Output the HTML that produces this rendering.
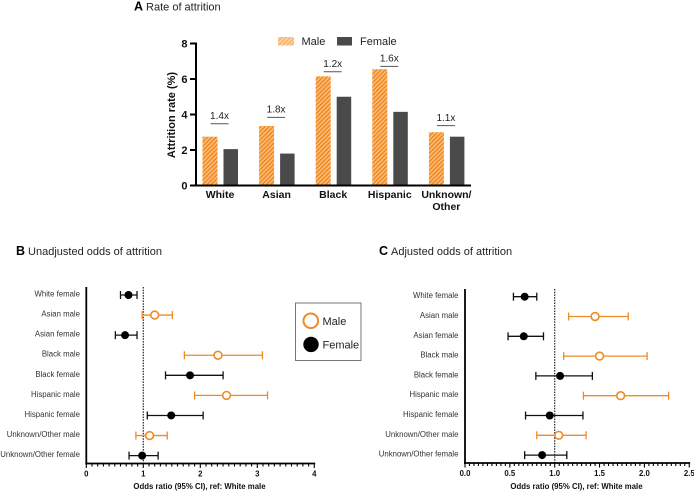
<!DOCTYPE html>
<html>
<head>
<meta charset="utf-8">
<title>Attrition rates and odds</title>
<style>
html,body{margin:0;padding:0;background:#fff;}
svg{display:block;font-family:"Liberation Sans",sans-serif;}
</style>
</head>
<body>
<svg id="fig" xmlns="http://www.w3.org/2000/svg" width="694" height="491" viewBox="0 0 694 491">
<defs>
<pattern id="hatch" patternUnits="userSpaceOnUse" width="3" height="3" patternTransform="rotate(45)">
<rect width="3" height="3" fill="#fbc48c"></rect>
<rect width="1.7" height="3" fill="#f28a1e"></rect>
</pattern>
</defs>
</svg>
<script>
// Panel A data
const groupsA = ['White', 'Asian', 'Black', 'Hispanic', 'Unknown/'];
const maleRates = [2.75, 3.35, 6.15, 6.55, 3.0];
const femaleRates = [2.05, 1.8, 5.0, 4.15, 2.75];
const ratioLabels = ['1.4x', '1.8x', '1.2x', '1.6x', '1.1x'];
const ratioLevels = [3.48, 3.84, 6.41, 6.71, 3.37];
const ticksA = [0, 2, 4, 6, 8];

// Panels B and C data
const rowLabels = ['White female', 'Asian male', 'Asian female', 'Black male', 'Black female', 'Hispanic male', 'Hispanic female', 'Unknown/Other male', 'Unknown/Other female'];
const rowSex = ['f', 'm', 'f', 'm', 'f', 'm', 'f', 'm', 'f'];
const oddsB = [0.74, 1.20, 0.68, 2.31, 1.82, 2.46, 1.49, 1.11, 0.98];
const lowB = [0.60, 0.98, 0.51, 1.72, 1.39, 1.90, 1.07, 0.87, 0.75];
const highB = [0.89, 1.51, 0.89, 3.09, 2.40, 3.18, 2.05, 1.42, 1.26];
const ticksB = ['0', '1', '2', '3', '4'];
const oddsC = [0.665, 1.45, 0.655, 1.50, 1.06, 1.735, 0.945, 1.045, 0.86];
const lowC = [0.54, 1.155, 0.48, 1.10, 0.79, 1.32, 0.675, 0.80, 0.665];
const highC = [0.80, 1.82, 0.875, 2.03, 1.42, 2.27, 1.315, 1.35, 1.135];
const ticksC = ['0.0', '0.5', '1.0', '1.5', '2.0', '2.5'];

const svg = document.getElementById('fig');
const NS = 'http://www.w3.org/2000/svg';
function mk(tag, attrs, text, parent) {
  const el = document.createElementNS(NS, tag);
  for (const k in attrs) el.setAttribute(k, attrs[k]);
  if (text !== undefined && text !== null) el.textContent = text;
  (parent || svg).appendChild(el);
  return el;
}
function line(x1, y1, x2, y2, stroke, w, parent, dash) {
  const a = {x1: x1, y1: y1, x2: x2, y2: y2, stroke: stroke, 'stroke-width': w};
  if (dash) a['stroke-dasharray'] = dash;
  return mk('line', a, null, parent);
}
function label(x, y, s, size, anchor, weight, fill, parent) {
  return mk('text', {x: x, y: y, 'font-size': size, 'text-anchor': anchor || 'start', 'font-weight': weight || 'normal', fill: fill || '#222'}, s, parent);
}

// Titles
const titleA = mk('text', {x: 134, y: 10.5, 'font-size': 11, fill: '#222'});


mk('tspan', {'font-weight': 'bold', 'font-size': 12.5, fill: '#000'}, 'A', titleA);
mk('tspan', {dx: 3}, 'Rate of attrition', titleA);
const titleB = mk('text', {x: 16, y: 255, 'font-size': 11, fill: '#222'});


mk('tspan', {'font-weight': 'bold', 'font-size': 12.5, fill: '#000'}, 'B', titleB);
mk('tspan', {dx: 3}, 'Unadjusted odds of attrition', titleB);
const titleC = mk('text', {x: 379, y: 255, 'font-size': 11, fill: '#222'});


mk('tspan', {'font-weight': 'bold', 'font-size': 12.5, fill: '#000'}, 'C', titleC);
mk('tspan', {dx: 3}, 'Adjusted odds of attrition', titleC);

// Panel A
const chartA = mk('g', {});


const yA = v => 185.5 - v * (142 / 8);
const barW = 15;
const groupX = i => 202.5 + i * 56.6;
groupsA.forEach((g, i) => {
  const gx = groupX(i);
  const m = mk('rect', {x: gx, y: yA(maleRates[i]), width: barW, height: yA(0) - yA(maleRates[i]), fill: 'url(#hatch)'}, null, chartA);
  
  
  const f = mk('rect', {x: gx + 21, y: yA(femaleRates[i]), width: 14.5, height: yA(0) - yA(femaleRates[i]), fill: '#4a4a4a'}, null, chartA);
  
  
  const ly = yA(ratioLevels[i]);
  const br = line(gx + 8, ly, gx + 26, ly, '#555', 1, chartA);
  
  
  const rl = label(gx + 17, ly - 4.7, ratioLabels[i], 10, 'middle', 'normal', '#222', chartA);
  
  
  const cat = label(gx + 17.5, 198, g, 10.5, 'middle', 'bold', '#111', chartA);
  
  
});
const other = label(groupX(4) + 17.5, 210, 'Other', 10.5, 'middle', 'bold', '#111', chartA);


line(196, 42.5, 196, 186.5, '#000', 2, chartA);
line(190, 185.5, 471, 185.5, '#000', 2, chartA);
ticksA.forEach(t => {
  line(190, yA(t), 196, yA(t), '#000', 2, chartA);
  const tl = label(187.5, yA(t) + 4, String(t), 11, 'end', 'bold', '#111', chartA);
  
  
});
const yTitle = mk('text', {x: 175, y: 115, 'font-size': 11, 'font-weight': 'bold', 'text-anchor': 'middle', fill: '#111', transform: 'rotate(-90 175 115)'}, 'Attrition rate (%)', chartA);


const legA = mk('g', {});


mk('rect', {x: 278, y: 37, width: 16, height: 8.5, fill: 'url(#hatch)', opacity: 0.65}, null, legA);
label(301.5, 45, 'Male', 11, 'start', 'normal', '#222', legA);
mk('rect', {x: 337, y: 37, width: 15, height: 8.5, fill: '#4a4a4a'}, null, legA);
label(360, 45, 'Female', 11, 'start', 'normal', '#222', legA);

// Forest plots
function forest(name, x0, pxPerUnit, maxV, tickLabels, tickStep, axTop, axBot, rowTop, rowGap, labelX, odds, low, high, titleX) {
  const g = mk('g', {});
  
  
  const xS = v => x0 + v * pxPerUnit;
  const yS = i => rowTop + i * rowGap;
  const ref = line(xS(1), axTop, xS(1), axBot, '#222', 1.2, g, '1.5 1.2');
  
  
  line(x0, axTop, x0, axBot + 1, '#000', 1.8, g);
  line(x0 - 0.9, axBot, xS(maxV) + 0.9, axBot, '#000', 1.8, g);
  const minorN = Math.round(maxV / tickStep) * 10;
  for (let k = 0; k <= minorN; k++) {
    const v = k * maxV / minorN;
    line(xS(v), axBot, xS(v), axBot + (k % 10 === 0 ? 4.5 : 3), '#000', 1.1, g);
  }
  tickLabels.forEach((t, k) => {
    const tl = label(xS(k * tickStep), axBot + 13, t, 7.8, 'middle', 'bold', '#111', g);
    
    
  });
  const xt = label(titleX, 489, 'Odds ratio (95% CI), ref: White male', 7.8, 'middle', 'bold', '#111', g);
  
  
  rowLabels.forEach((r, i) => {
    const c = rowSex[i] === 'm' ? '#f08a24' : '#111';
    const y = yS(i);
    const rl = label(labelX, y + 1.5, r, 7.8, 'end', 'normal', '#333', g);
    
    
    const ci = line(xS(low[i]), y, xS(high[i]), y, c, 1.3, g);
    
    
    line(xS(low[i]), y - 4, xS(low[i]), y + 4, c, 1.3, g);
    line(xS(high[i]), y - 4, xS(high[i]), y + 4, c, 1.3, g);
    const pt = rowSex[i] === 'm'
      ? mk('circle', {cx: xS(odds[i]), cy: y, r: 3.9, fill: '#fff', stroke: c, 'stroke-width': 1.6}, null, g)
      : mk('circle', {cx: xS(odds[i]), cy: y, r: 4, fill: '#000'}, null, g);
    
    
  });
}
forest('unadjusted-odds-forest-plot', 86.3, 57, 4, ticksB, 1, 287, 463.5, 295, 20.08, 80, oddsB, lowB, highB, 199.5);
forest('adjusted-odds-forest-plot', 465, 89.7, 2.5, ticksC, 0.5, 289, 463, 296.7, 19.8, 458.5, oddsC, lowC, highC, 576.5);

// Shared legend
const leg = mk('g', {});


mk('rect', {x: 295.5, y: 303, width: 65.5, height: 57.5, fill: '#fff', stroke: '#777', 'stroke-width': 1}, null, leg);
mk('circle', {cx: 310.8, cy: 320.8, r: 7.3, fill: '#fff', stroke: '#f08a24', 'stroke-width': 2}, null, leg);
label(322.5, 325, 'Male', 11, 'start', 'normal', '#222', leg);
mk('circle', {cx: 311, cy: 344.4, r: 7.7, fill: '#000'}, null, leg);
label(322.5, 348.5, 'Female', 11, 'start', 'normal', '#222', leg);
</script>
</body>
</html>
